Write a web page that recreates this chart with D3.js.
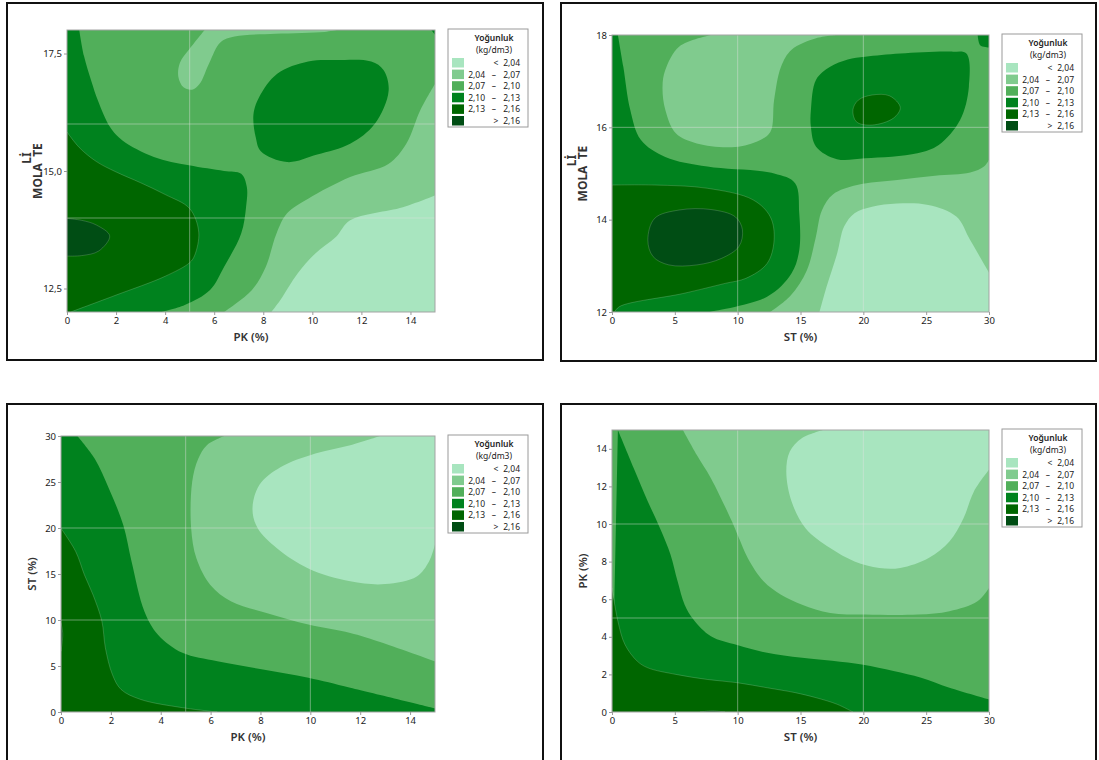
<!DOCTYPE html>
<html>
<head>
<meta charset="utf-8">
<script src="https://cdn.jsdelivr.net/npm/d3@7"></script>
<style>
  body { margin: 0; background: #fff; }
  svg { display: block; font-family: "Noto Sans", "Open Sans", sans-serif; }
</style>
</head>
<body>
<svg id="chart" width="1099" height="760"></svg>
<script>
// contour levels and legend
const levels = [2.04, 2.07, 2.10, 2.13, 2.16];
const bandColors = ['#a8e5bf', '#80cb8e', '#51af5a', '#00821e', '#006600', '#004d14'];
const bandLabels = [
  ['', '<', '2,04'], ['2,04', '–', '2,07'], ['2,07', '–', '2,10'],
  ['2,10', '–', '2,13'], ['2,13', '–', '2,16'], ['', '>', '2,16']
];

// tick labels
const pkTicks = [0, 2, 4, 6, 8, 10, 12, 14];
const stTicks = [0, 5, 10, 15, 20, 25, 30];
const molTicks1 = [12.5, 15.0, 17.5];
const molTicks2 = [12, 14, 16, 18];
const stTicksY = [0, 5, 10, 15, 20, 25, 30];
const pkTicksY = [0, 2, 4, 6, 8, 10, 12, 14];

// contour boundaries, [x, y] in data units.
// edge: open contour line that is closed through the listed plot corners
// ring: closed contour inside the plot
const p1Shapes = [
  { band: 1, edge: [[15, 14.48], [13.69, 14.23], [11.54, 13.95], [10.97, 13.6], [10.11, 13.24], [9.4, 12.82], [8.69, 12.25], [8.33, 12]], close: [[0, 12], [0, 18], [15, 18]] },
  { band: 2, edge: [[6.4, 12], [7.54, 12.47], [8.1, 12.96], [8.54, 13.67], [8.97, 14.1], [9.83, 14.41], [11.54, 14.87], [13.1, 15.15], [13.83, 15.58], [14.4, 16.29], [15, 16.85]], close: [[15, 18], [0, 18], [0, 12]] },
  { band: 1, edge: [[5.61, 18], [5.0, 17.6], [4.6, 17.3], [4.54, 17.0], [4.75, 16.78], [5.1, 16.73], [5.4, 16.85], [5.8, 17.3], [6.26, 17.74], [6.83, 17.86], [8.5, 17.92], [10.5, 17.96], [11.0, 18]], close: [] },
  { band: 3, edge: [[0.5, 18], [0.69, 17.45], [1.0, 16.9], [1.26, 16.5], [1.76, 15.93], [2.26, 15.65], [3.54, 15.3], [4.97, 15.12], [6.4, 15.0], [7.1, 14.94], [7.33, 14.66], [7.3, 14.24], [7.1, 13.67], [6.4, 12.96], [5.83, 12.47], [4.8, 12.15], [3.83, 12]], close: [[0, 12], [0, 18]] },
  { band: 3, ring: [[7.83, 16.57], [7.6, 16.2], [7.7, 15.7], [7.9, 15.42], [8.97, 15.19], [10.2, 15.35], [11.54, 15.58], [12.54, 16.0], [13.11, 16.71], [12.9, 17.15], [12.4, 17.33], [10.97, 17.36], [9.83, 17.33], [8.57, 17.07]] },
  { band: 3, edge: [[14.85, 18], [15, 17.9]], close: [[15, 18]] },
  { band: 4, edge: [[0, 15.83], [0.5, 15.5], [1.2, 15.2], [2, 14.98], [3, 14.75], [4, 14.5], [5, 14.2], [5.37, 13.7], [5.2, 13.2], [5, 13.05], [4, 12.76], [2, 12.36], [0.15, 12]], close: [[0, 12]] },
  { band: 5, edge: [[0, 13.99], [0.6, 13.95], [1.2, 13.85], [1.74, 13.62], [1.3, 13.3], [0.6, 13.2], [0, 13.19]], close: [] }
];

const p2Shapes = [
  { band: 1, edge: [[16.52, 12], [17.08, 12.55], [17.92, 13.27], [18.47, 13.85], [19.3, 14.14], [20.7, 14.28], [22.66, 14.35], [25.17, 14.32], [27.4, 14.07], [28.5, 13.56], [29.9, 12.9], [30, 12.85]], close: [[30, 18], [0, 18], [0, 12]] },
  { band: 2, edge: [[12.6, 12], [14.2, 12.35], [15.5, 12.9], [16.2, 13.6], [16.7, 14.2], [17.6, 14.55], [19.5, 14.75], [22.7, 14.86], [25.7, 14.95], [28.5, 15.02], [29.6, 15.15], [30, 15.3]], close: [[30, 18], [0, 18], [0, 12]] },
  { band: 1, edge: [[7.87, 18], [5.36, 17.75], [4.24, 17.24], [4.02, 16.88], [4.24, 16.38], [5.08, 15.87], [6.75, 15.65], [9.54, 15.57], [11.5, 15.69], [12.6, 15.9], [12.9, 16.59], [13.45, 17.31], [14.29, 17.68], [16.24, 17.93], [17.9, 18]], close: [] },
  { band: 3, edge: [[0.47, 18], [0.9, 17.31], [1.45, 16.38], [2.29, 15.73], [4.24, 15.36], [7.59, 15.15], [12.9, 15.0], [14.57, 14.79], [14.9, 14.14], [14.9, 13.34], [14.29, 12.84], [12.34, 12.33], [7.73, 12]], close: [[0, 12], [0, 18]] },
  { band: 3, ring: [[15.83, 16.38], [16.24, 17.03], [17.36, 17.31], [18.76, 17.47], [20.15, 17.53], [22.94, 17.6], [27.0, 17.64], [28.2, 17.6], [28.4, 16.88], [27.7, 16.16], [26.0, 15.62], [24.3, 15.44], [20.15, 15.33], [17.9, 15.31], [16.24, 15.58], [15.83, 16.0]] },
  { band: 3, edge: [[29.1, 18], [29.3, 17.78], [30, 17.73]], close: [[30, 18]] },
  { band: 4, edge: [[0, 14.75], [3.4, 14.75], [7.59, 14.68], [11.22, 14.43], [12.6, 14.06], [12.9, 13.56], [12.34, 13.05], [10.66, 12.73], [9.0, 12.62], [5.64, 12.4], [0.61, 12.12], [0.2, 12]], close: [[0, 12]] },
  { band: 4, ring: [[19.17, 16.38], [19.6, 16.59], [20.7, 16.7], [22.1, 16.68], [22.94, 16.43], [22.4, 16.2], [20.7, 16.05], [19.45, 16.12]] },
  { band: 5, ring: [[2.85, 13.56], [3.4, 14.03], [5.36, 14.21], [7.87, 14.22], [9.82, 14.06], [10.38, 13.78], [10.1, 13.42], [8.7, 13.16], [6.75, 13.02], [4.52, 13.02], [3.27, 13.2]] }
];

const p3Shapes = [
  { band: 1, edge: [[12.8, 30], [11.6, 29.0], [10.2, 28.1], [8.8, 26.6], [7.96, 24.7], [7.68, 22.1], [7.89, 19.96], [8.66, 17.8], [9.92, 15.6], [11.6, 14.2], [13.0, 13.9], [14.27, 14.73], [14.76, 16.35], [15, 18.2]], close: [[15, 0], [0, 0], [0, 30]] },
  { band: 2, edge: [[6.55, 30], [5.85, 29.0], [5.5, 27.5], [5.26, 25.0], [5.22, 19.96], [5.43, 16.7], [5.99, 13.8], [6.83, 12.0], [8.24, 10.76], [9.92, 9.5], [11.6, 8.6], [12.7, 7.7], [15, 5.52]], close: [[15, 0], [0, 0], [0, 30]] },
  { band: 3, edge: [[0.66, 30], [1.36, 27.5], [1.92, 24.3], [2.5, 20.3], [2.83, 16.35], [3.35, 10.9], [3.89, 8.4], [4.87, 6.43], [6.27, 5.52], [8.1, 4.62], [9.92, 3.72], [11.6, 2.64], [15, 0.4]], close: [[15, 0], [0, 0], [0, 30]] },
  { band: 4, edge: [[0, 19.96], [0.59, 17.44], [0.94, 14.9], [1.29, 12.7], [1.64, 9.86], [1.78, 6.97], [2.06, 4.08], [2.41, 2.45], [3.19, 1.37], [4.87, 0.47], [6.27, 0]], close: [[0, 0]] },
  { band: 5, edge: [[0, 9.7], [0.07, 8.5], [0, 6.6]], close: [] }
];

const p4Shapes = [
  { band: 1, edge: [[16.8, 15], [15.1, 14.56], [14.15, 13.85], [13.87, 12.79], [14.29, 11.2], [15.4, 9.78], [17.36, 8.72], [19.3, 8.01], [21.27, 7.66], [22.94, 7.66], [25.2, 8.19], [26.85, 9.07], [27.97, 10.31], [28.8, 11.73], [30, 12.88]], close: [[30, 0], [0, 0], [0, 15]] },
  { band: 2, edge: [[5.64, 15], [6.75, 13.67], [7.87, 12.44], [9.54, 10.14], [10.1, 9.25], [10.8, 8.19], [12.06, 6.95], [13.45, 6.24], [15.13, 5.71], [17.36, 5.27], [20.15, 5.18], [24.34, 5.18], [26.85, 5.36], [29.08, 5.89], [30, 6.6]], close: [[30, 0], [0, 0], [0, 15]] },
  { band: 3, edge: [[0.47, 15], [1.73, 12.97], [2.85, 11.2], [3.82, 9.78], [4.66, 8.37], [5.22, 6.95], [5.78, 5.71], [6.48, 4.92], [7.87, 4.03], [9.96, 3.56], [12.34, 3.15], [15.13, 2.88], [19.87, 2.53], [22.4, 2.18], [24.6, 1.82], [26.85, 1.29], [30, 0.67]], close: [[30, 0], [0, 0]] },
  { band: 4, edge: [[0, 6.6], [0.47, 4.83], [1.03, 3.59], [2.0, 2.71], [2.85, 2.35], [5.08, 2.0], [7.59, 1.73], [9.96, 1.56], [12.34, 1.29], [14.57, 1.03], [16.24, 0.76], [17.92, 0.41], [19.17, 0]], close: [[0, 0]] },
  { band: 5, edge: [[7, 0], [8, 0.06], [9, 0]], close: [] }
];

const comma = d3.formatLocale({ decimal: ',', thousands: '.', grouping: [3], currency: ['', ''] });

const panels = [
  { frame: [7, 3, 543, 360], plot: [67, 30, 435, 312], xDom: [0, 15], yDom: [12, 18],
    xTicks: pkTicks, yTicks: molTicks1, yFmt: comma.format('.1f'), xLabel: 'PK (%)', yLabel: 'mol',
    gridX: [5], gridY: [14, 16], shapes: p1Shapes },
  { frame: [561, 3, 1096, 361], plot: [612, 35, 989, 312], xDom: [0, 30], yDom: [12, 18],
    xTicks: stTicks, yTicks: molTicks2, yFmt: d3.format('d'), xLabel: 'ST (%)', yLabel: 'mol',
    gridX: [10, 20], gridY: [16], shapes: p2Shapes },
  { frame: [7, 404, 543, 762], plot: [61, 436, 435, 712], xDom: [0, 15], yDom: [0, 30],
    xTicks: pkTicks, yTicks: stTicksY, yFmt: d3.format('d'), xLabel: 'PK (%)', yLabel: 'ST (%)',
    gridX: [5, 10], gridY: [10, 20], shapes: p3Shapes },
  { frame: [561, 404, 1096, 762], plot: [612, 430, 989, 712], xDom: [0, 30], yDom: [0, 15],
    xTicks: stTicks, yTicks: pkTicksY, yFmt: d3.format('d'), xLabel: 'ST (%)', yLabel: 'PK (%)',
    gridX: [10, 20], gridY: [5, 10], shapes: p4Shapes }
];

const svg = d3.select('#chart');

function shapePath(s, x, y) {
  const line = d3.line().x(d => x(d[0])).y(d => y(d[1]));
  if (s.ring) return line.curve(d3.curveCatmullRomClosed.alpha(0.5))(s.ring);
  let p = line.curve(d3.curveCatmullRom.alpha(0.5))(s.edge);
  s.close.forEach(c => { p += `L${x(c[0])},${y(c[1])}`; });
  return p + 'Z';
}

panels.forEach((pn, i) => {
  const [fx0, fy0, fx1, fy1] = pn.frame;
  const [l, t, r, b] = pn.plot;
  const x = d3.scaleLinear().domain(pn.xDom).range([l, r]);
  const y = d3.scaleLinear().domain(pn.yDom).range([b, t]);

  svg.append('rect')
    .attr('x', fx0).attr('y', fy0)
    .attr('width', fx1 - fx0).attr('height', fy1 - fy0)
    .attr('fill', 'none').attr('stroke', '#111').attr('stroke-width', 2);

  svg.append('clipPath').attr('id', 'clip' + i)
    .append('rect').attr('x', l).attr('y', t).attr('width', r - l).attr('height', b - t);

  const g = svg.append('g').attr('clip-path', `url(#clip${i})`);
  g.append('rect')
    .attr('x', l).attr('y', t).attr('width', r - l).attr('height', b - t)
    .attr('fill', bandColors[0]);

  g.selectAll('path.band')
    .data(pn.shapes)
    .enter().append('path')
    .attr('class', 'band')
    .attr('d', d => shapePath(d, x, y))
    .attr('fill', d => bandColors[d.band])
    .attr('stroke', d => d.band >= 4 ? 'rgba(255,255,255,0.22)' : 'none')
    .attr('stroke-width', 0.8);

  // reference lines
  g.selectAll('line.gx').data(pn.gridX).enter().append('line')
    .attr('x1', d => x(d)).attr('x2', d => x(d)).attr('y1', t).attr('y2', b)
    .attr('stroke', 'rgba(225,225,225,0.45)').attr('stroke-width', 1);
  g.selectAll('line.gy').data(pn.gridY).enter().append('line')
    .attr('y1', d => y(d)).attr('y2', d => y(d)).attr('x1', l).attr('x2', r)
    .attr('stroke', 'rgba(225,225,225,0.45)').attr('stroke-width', 1);

  svg.append('rect')
    .attr('x', l).attr('y', t).attr('width', r - l).attr('height', b - t)
    .attr('fill', 'none').attr('stroke', '#a3a3a3').attr('stroke-width', 1);

  const xAxis = svg.append('g').attr('transform', `translate(0,${b})`)
    .call(d3.axisBottom(x).tickValues(pn.xTicks).tickSize(3).tickPadding(2).tickFormat(d3.format('d')));
  const yAxis = svg.append('g').attr('transform', `translate(${l},0)`)
    .call(d3.axisLeft(y).tickValues(pn.yTicks).tickSize(3).tickPadding(2).tickFormat(pn.yFmt));
  [xAxis, yAxis].forEach(a => {
    a.select('.domain').remove();
    a.selectAll('line').attr('stroke', '#9a9a9a');
    a.selectAll('text').attr('fill', '#1a1a1a').style('font-size', '9.5px')
      .style('font-family', '"Noto Sans", sans-serif');
  });

  // axis titles
  svg.append('text')
    .attr('x', (l + r) / 2).attr('y', b + 29)
    .attr('text-anchor', 'middle')
    .attr('fill', '#333').style('font-size', '11.5px').style('font-weight', 600)
    .text(pn.xLabel);

  const cy = (t + b) / 2;
  const tx = l - 30;
  if (pn.yLabel === 'mol') {
    const parts = [['MOLA', tx, cy + 10], ['TE', tx, cy - 21], ['Lİ', tx - 11, cy - 13]];
    parts.forEach(([s, px, py]) => {
      svg.append('text')
        .attr('transform', `translate(${px},${py}) rotate(-90)`)
        .attr('text-anchor', 'middle').attr('dominant-baseline', 'central')
        .attr('fill', '#333').style('font-size', '12px').style('font-weight', 700)
        .text(s);
    });
  } else {
    svg.append('text')
      .attr('transform', `translate(${tx},${cy}) rotate(-90)`)
      .attr('text-anchor', 'middle').attr('dominant-baseline', 'central')
      .attr('fill', '#333').style('font-size', '11.5px').style('font-weight', 600)
      .text(pn.yLabel);
  }

  // legend
  const lx = r + 13, ly = t - 1;
  const lg = svg.append('g').attr('transform', `translate(${lx},${ly})`);
  lg.append('rect').attr('width', 80).attr('height', 98)
    .attr('fill', '#fff').attr('stroke', '#9a9a9a').attr('stroke-width', 1);
  lg.append('text').attr('x', 46).attr('y', 12).attr('text-anchor', 'middle')
    .attr('fill', '#222').style('font-size', '8.5px').style('font-weight', 600).text('Yoğunluk');
  lg.append('text').attr('x', 46).attr('y', 24).attr('text-anchor', 'middle')
    .attr('fill', '#222').style('font-size', '8.5px').text('(kg/dm3)');
  const rows = lg.selectAll('g.row').data(bandLabels).enter().append('g')
    .attr('transform', (d, k) => `translate(0,${29 + k * 11.6})`);
  rows.append('rect').attr('x', 4).attr('width', 12).attr('height', 9.5)
    .attr('fill', (d, k) => bandColors[k]);
  rows.append('text').attr('x', 37).attr('y', 8).attr('text-anchor', 'end')
    .attr('fill', '#222').style('font-size', '8.5px').text(d => d[0]);
  rows.append('text').attr('x', d => d[1] === '–' ? 46 : 48).attr('y', 8).attr('text-anchor', 'middle')
    .attr('fill', '#222').style('font-size', '8.5px').text(d => d[1]);
  rows.append('text').attr('x', 72).attr('y', 8).attr('text-anchor', 'end')
    .attr('fill', '#222').style('font-size', '8.5px').text(d => d[2]);
});
</script>
</body>
</html>
